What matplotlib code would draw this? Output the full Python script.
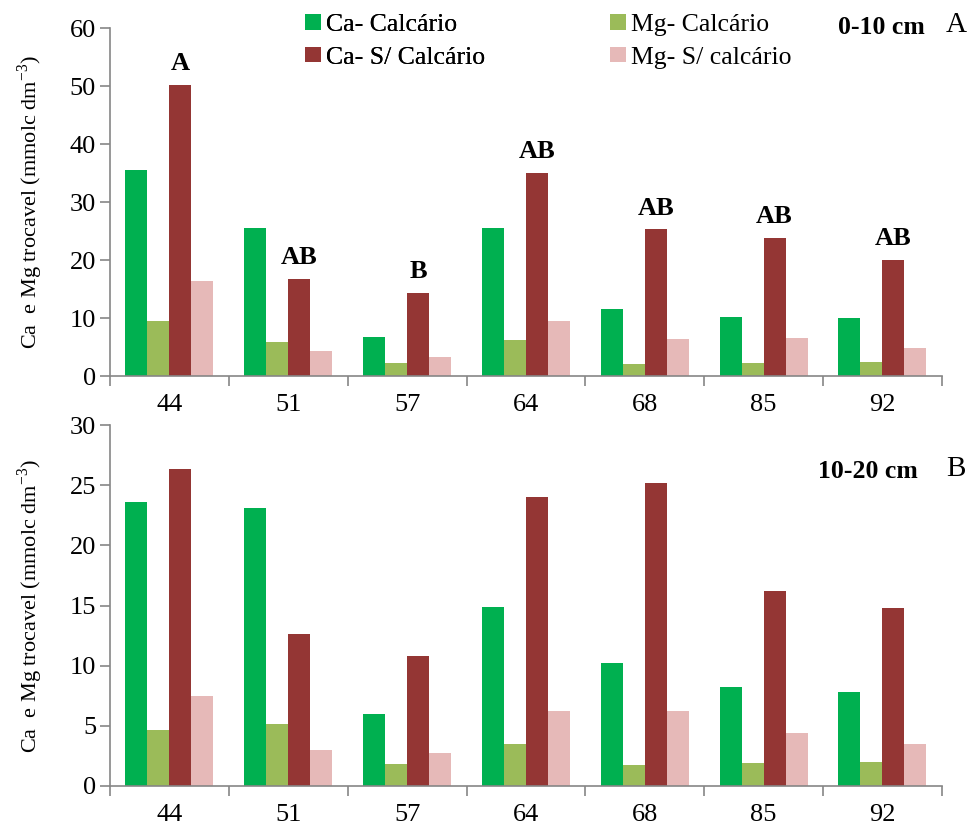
import matplotlib
matplotlib.use("Agg")
import matplotlib.pyplot as plt
import numpy as np
from matplotlib.patches import Patch

plt.rcParams['font.family'] = ['Liberation Serif', 'DejaVu Serif']
plt.rcParams['mathtext.fontset'] = 'custom'
plt.rcParams['mathtext.rm'] = 'Liberation Serif'

categories = ["44", "51", "57", "64", "68", "85", "92"]
series_names = ["Ca- Calcário", "Mg- Calcário", "Ca- S/ Calcário", "Mg- S/ calcário"]
colors = ["#00B050", "#9BBB59", "#943634", "#E6B9B8"]

# 0-10 cm layer
ca_cal_0_10 = [35.5, 25.5, 6.8, 25.5, 11.5, 10.2, 10.0]
mg_cal_0_10 = [9.5, 5.8, 2.2, 6.2, 2.1, 2.2, 2.5]
ca_sem_0_10 = [50.2, 16.8, 14.3, 35.0, 25.3, 23.8, 20.0]
mg_sem_0_10 = [16.3, 4.3, 3.3, 9.5, 6.3, 6.5, 4.8]
letters_0_10 = ["A", "AB", "B", "AB", "AB", "AB", "AB"]

# 10-20 cm layer
ca_cal_10_20 = [23.6, 23.1, 6.0, 14.9, 10.2, 8.25, 7.8]
mg_cal_10_20 = [4.65, 5.15, 1.8, 3.5, 1.75, 1.9, 2.0]
ca_sem_10_20 = [26.35, 12.6, 10.8, 24.0, 25.2, 16.2, 14.8]
mg_sem_10_20 = [7.45, 3.0, 2.7, 6.2, 6.2, 4.4, 3.5]

fig = plt.figure(figsize=(9.7, 8.25), dpi=100)
ax1 = fig.add_axes([0.1134, 0.5442, 0.8576, 0.4218])
ax2 = fig.add_axes([0.1134, 0.0473, 0.8576, 0.4375])

x = np.arange(len(categories))
w = 0.185
offsets = (np.arange(4) - 1.5) * w


def draw(ax, data, ymax, step):
    for i, vals in enumerate(data):
        ax.bar(x + offsets[i], vals, width=w, color=colors[i], edgecolor='none', zorder=2)
    ax.set_xlim(-0.5, len(categories) - 0.5)
    ax.set_ylim(0, ymax)
    ax.set_yticks(np.arange(0, ymax + 0.1, step))
    ax.set_xticks(x)
    ax.set_xticklabels(categories)
    ax.set_xticks(np.arange(-0.5, len(categories), 1), minor=True)
    ax.tick_params(axis='x', which='major', length=0, labelsize=19, pad=13)
    ax.tick_params(axis='x', which='minor', length=7, color='#868686', width=1.2, direction='out')
    ax.tick_params(axis='y', length=7, color='#868686', width=1.2, labelsize=19, pad=3)
    for s in ['top', 'right']:
        ax.spines[s].set_visible(False)
    for s in ['left', 'bottom']:
        ax.spines[s].set_color('#868686')
        ax.spines[s].set_linewidth(1.2)
    ax.set_ylabel("Ca  e Mg trocavel (mmolc dm$^{-3}$)", fontsize=16, labelpad=18)


draw(ax1, [ca_cal_0_10, mg_cal_0_10, ca_sem_0_10, mg_sem_0_10], 60, 10)
draw(ax2, [ca_cal_10_20, mg_cal_10_20, ca_sem_10_20, mg_sem_10_20], 30, 5)

for xi, val, lab in zip(x, ca_sem_0_10, letters_0_10):
    ax1.annotate(lab, (xi + offsets[2], val), xytext=(0, 7), textcoords='offset points',
                 ha='center', va='bottom', fontsize=19, fontweight='bold')

legend_kw = dict(loc='upper left', frameon=False, fontsize=18.5, handlelength=0.62,
                 handleheight=0.55, handletextpad=0.2, labelspacing=0.42,
                 borderpad=0, borderaxespad=0)
leg1 = fig.legend([Patch(facecolor=colors[0], edgecolor='none'),
                   Patch(facecolor=colors[2], edgecolor='none')],
                  [series_names[0], series_names[2]],
                  bbox_to_anchor=(305 / 970, 1 - 14 / 825), **legend_kw)
fig.add_artist(leg1)
fig.legend([Patch(facecolor=colors[1], edgecolor='none'),
            Patch(facecolor=colors[3], edgecolor='none')],
           [series_names[1], series_names[3]],
           bbox_to_anchor=(610 / 970, 1 - 14 / 825), **legend_kw)

fig.text(838 / 970, 1 - 27 / 825, "0-10 cm", fontsize=18.5, fontweight='bold', ha='left', va='center')
fig.text(946 / 970, 1 - 25 / 825, "A", fontsize=21, ha='left', va='center')
fig.text(818 / 970, 1 - 471 / 825, "10-20 cm", fontsize=18.5, fontweight='bold', ha='left', va='center')
fig.text(946 / 970, 1 - 469 / 825, "B", fontsize=21, ha='left', va='center')

fig.savefig("out.png", dpi=100)
